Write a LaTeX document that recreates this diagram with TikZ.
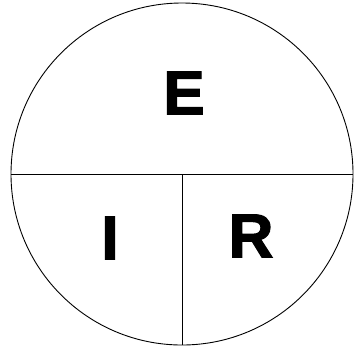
\documentclass[tikz,border=0pt]{standalone}
\usepackage{fontspec}
\setmainfont{Liberation Sans}
\newfontfamily\heavyfont[FakeBold=2]{Liberation Sans}
\usepackage{tikz}

\begin{document}
\begin{tikzpicture}[x=1pt,y=-1pt,line width=0.9pt]
        \useasboundingbox (0,0) rectangle (355,349);
        \tikzset{letter/.style={font=\heavyfont\fontsize{62}{62}\selectfont\bfseries,inner sep=0pt}}

        \coordinate (c) at (182,174);
        \draw (c) circle [radius=171];
        \coordinate (w) at (11,174);
        \coordinate (e) at (353,174);
        \coordinate (s) at (182,345);
        \draw (w) -- (e);
        \draw (c) -- (s);

{\node[letter] (E) at (184,93) {E};}
{\node[letter] (I) at (110,238) {I};}
{\node[letter] (R) at (251,236) {R};}

\end{tikzpicture}
\end{document}
